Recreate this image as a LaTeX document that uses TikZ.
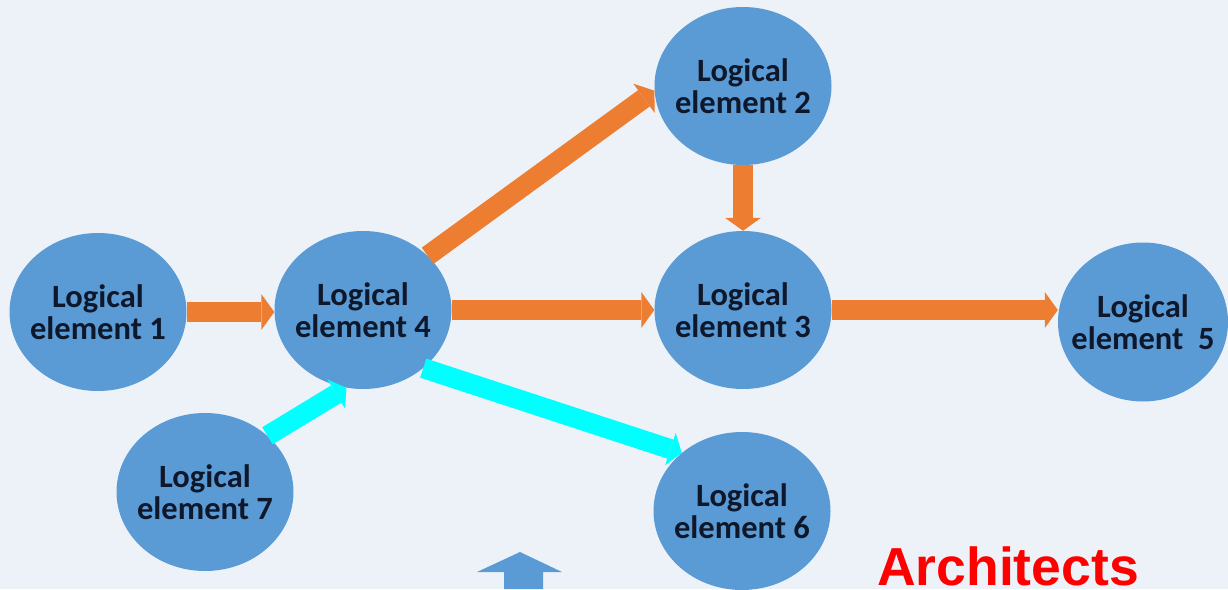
\documentclass[tikz,border=0pt]{standalone}
\usepackage{fontspec}
\setmainfont{Carlito}
\newfontfamily\archfont{Liberation Sans}
\usetikzlibrary{arrows.meta,shapes.geometric}
\definecolor{bg}{HTML}{EDF2F8}
\definecolor{nodeblue}{HTML}{5B9BD5}
\definecolor{navy}{HTML}{0F182A}
\definecolor{flow}{HTML}{ED7D31}
\definecolor{link}{HTML}{00FFFF}
\begin{document}
\begin{tikzpicture}[x=1pt,y=-1pt,
  element/.style={ellipse, fill=nodeblue, minimum width=177pt, minimum height=158pt,
    inner xsep=-20pt, inner ysep=0pt, align=center, text=navy,
    font=\fontsize{32.5}{32.5}\selectfont\bfseries},
  flowarrow/.style={draw=flow, line width=20pt,
    -{Triangle[width=36pt,length=13pt,line width=0pt]}},
  linkarrow/.style={draw=link, line width=20pt,
    -{Triangle[width=34pt,length=12pt,line width=0pt]}},
]
% backdrop
\fill[bg] (0,0) rectangle (1228,589);
\useasboundingbox (0,0) rectangle (1228,589);

% logical elements
\node[element] (E1) at (98,312)  {Logical\\element 1};
\node[element] (E4) at (363,310) {Logical\\element 4};
\node[element] (E2) at (743,86)  {Logical\\element 2};
\node[element] (E3) at (743,310) {Logical\\element 3};
\node[element, minimum width=170pt, minimum height=159pt] (E5) at (1143,322) {Logical\\element\ \ 5};
\node[element] (E7) at (205,492) {Logical\\element 7};
\node[element] (E6) at (742,511) {Logical\\element 6};

% orange flows
\draw[flowarrow] (E1.east) -- (E1.east -| E4.west);
\draw[flowarrow] (E4.east) -- (E3.west);
\draw[flowarrow] (E4.40) -- (E2.183);
\draw[flowarrow] (E2.south) -- (E3.north);
\draw[flowarrow] (E3.east) -- (E3.east -| E5.west);

% cyan links
\draw[linkarrow] (E7.42) -- (E4.258);
\draw[linkarrow] (E4.-44) -- (E6.136);

% upward block arrow
\fill[nodeblue] (504,589) -- (504,572) -- (477,572) -- (520,552) -- (562,572)
  -- (543,572) -- (543,589) -- cycle;

% caption
\node[anchor=base west, inner sep=0pt, text=red,
  font=\archfont\bfseries\fontsize{53.5}{53.5}\selectfont] (arch) at (877,585) {Architects};
\end{tikzpicture}
\end{document}
